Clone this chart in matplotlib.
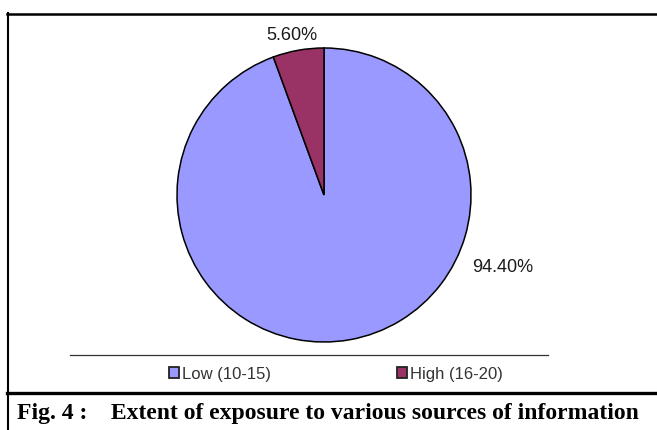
import matplotlib
matplotlib.use("Agg")
import matplotlib.pyplot as plt
from matplotlib.lines import Line2D

categories = ["Low (10-15)", "High (16-20)"]
values = [94.40, 5.60]
labels = ["94.40%", "5.60%"]
colors = ["#9999FF", "#993366"]
caption = "Fig. 4 :    Extent of exposure to various sources of information"

W, H = 657, 430
fig = plt.figure(figsize=(W / 100, H / 100), dpi=100)

def px(x, y):
    return x / W, 1 - y / H

# pie axes
cx, cy, r = 324, 195, 147
ax = fig.add_axes([(cx - r) / W, (H - cy - r) / H, 2 * r / W, 2 * r / H])
wedges, _ = ax.pie(values, colors=colors, startangle=90, counterclock=False,
                   wedgeprops=dict(edgecolor="black", linewidth=1.1))
ax.set_xlim(-1, 1)
ax.set_ylim(-1, 1)
ax.axis("off")

# data labels
def data_xy(x, y):
    return (x - cx) / r, (cy - y) / r

ax.text(*data_xy(503, 268), labels[0], ha="center", va="center", fontsize=13,
        family="Liberation Sans", color="#1a1a1a")
ax.text(*data_xy(292, 35), labels[1], ha="center", va="center", fontsize=13,
        family="Liberation Sans", color="#1a1a1a")

# legend
leg = fig.legend(wedges, categories, loc="center", bbox_to_anchor=px(336, 374),
                 ncol=2, frameon=False, handlelength=0.6, handleheight=0.6,
                 handletextpad=0.15, columnspacing=7.6,
                 prop=dict(family="Liberation Sans", size=12))
for h in leg.legend_handles:
    h.set_edgecolor("#222222")
    h.set_linewidth(1.3)
for t in leg.get_texts():
    t.set_color("#333333")

# decorative frame lines
def hline(x0, x1, y, lw, color="black"):
    a, b = px(x0, y)
    c, _ = px(x1, y)
    fig.add_artist(Line2D([a, c], [b, b], transform=fig.transFigure, lw=lw, color=color))

def vline(x, y0, y1, lw, color="black"):
    a, b = px(x, y0)
    _, d = px(x, y1)
    fig.add_artist(Line2D([a, a], [b, d], transform=fig.transFigure, lw=lw, color=color))

hline(7, W, 13.5, 1.8)
vline(8, 12.5, H, 1.5)
hline(7, W, 393, 2.4)
hline(70, 548, 354.5, 0.9, "#333333")

# caption
fig.text(*px(17, 414), caption, ha="left", va="center", fontsize=17,
         fontweight="bold", family="Liberation Serif")

fig.savefig("out.png", dpi=100)
